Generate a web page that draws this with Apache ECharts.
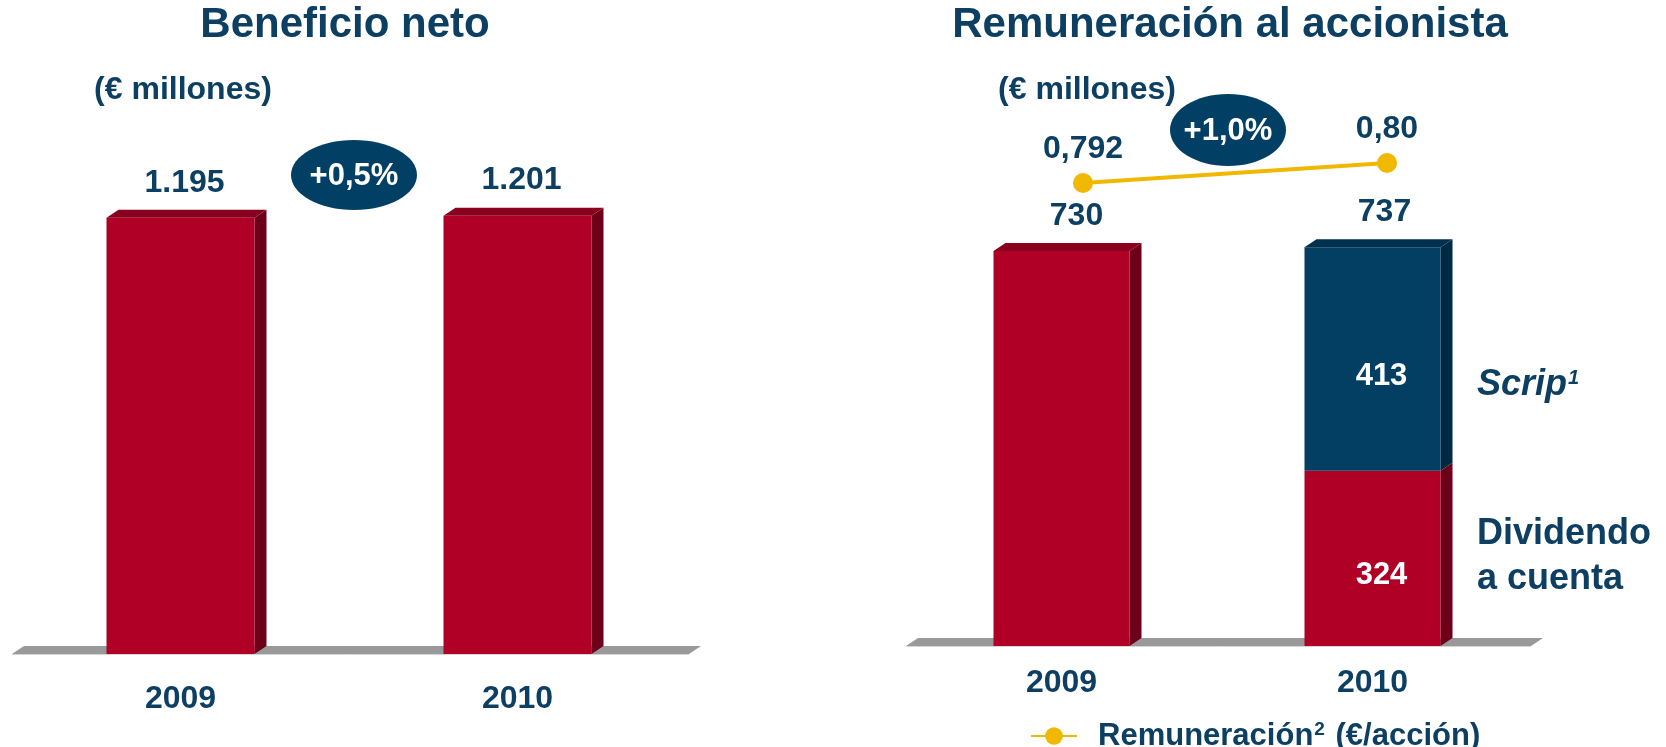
<!DOCTYPE html>
<html>
<head>
<meta charset="utf-8">
<script src="https://cdn.jsdelivr.net/npm/echarts@6/dist/echarts.min.js"></script>
<style>
html, body { margin: 0; padding: 0; background: #fff; }
#main { width: 1666px; height: 747px; }
</style>
</head>
<body>
<div id="main"></div>
<script>
// datos
var years = ['2009', '2010'];
var beneficioNeto = [1195, 1201];
var dividendoCuenta = [730, 324];
var scrip = [0, 413];
var remuneracion = [0.792, 0.80];
var remuneracionLabels = ['0,792', '0,80'];
var titulos = ['Beneficio neto', 'Remuneración al accionista'];
var unidad = '(€ millones)';
var nombreLinea = 'Remuneración² (€/acción)';
var nombresTramos = ['Dividendo\na cuenta', 'Scrip'];

var AZUL = '#0c3f62';
var ORO = '#f0b800';
var FONT = '"Liberation Sans", Arial, Helvetica, sans-serif';
var ROJO = { front: '#b00026', side: '#6d0018', top: '#89001e' };
var AZUL3D = { front: '#023f63', side: '#002a44', top: '#01304f' };
var DX = 12, DY = 8;

function miles(v) {
    return String(v).replace(/\B(?=(\d{3})+(?!\d))/g, '.');
}
function pct(a, b) {
    var p = (b / a - 1) * 100;
    return (p >= 0 ? '+' : '') + p.toFixed(1).replace('.', ',') + '%';
}

// barra 3d, items: [cat, base, tope, etiquetaArriba, etiquetaDentro]
function bar3d(width, col, lblDx, items) {
    return function (params, api) {
        var d = items[params.dataIndex];
        var p0 = api.coord([d[0], d[1]]);
        var p1 = api.coord([d[0], d[2]]);
        var x0 = p0[0] - width / 2, x1 = x0 + width;
        var yb = p0[1], yt = p1[1];
        var kids = [
            { type: 'polygon', shape: { points: [[x1, yt], [x1 + DX, yt - DY], [x1 + DX, yb - DY], [x1, yb]] }, style: { fill: col.side } },
            { type: 'rect', shape: { x: x0, y: yt, width: width, height: yb - yt }, style: { fill: col.front } }
        ];
        if (d[3]) {
            kids.push({ type: 'polygon', shape: { points: [[x0, yt], [x0 + DX, yt - DY], [x1 + DX, yt - DY], [x1, yt]] }, style: { fill: col.top } });
            kids.push({ type: 'text', x: p0[0] + lblDx, y: yt - 35, style: { text: d[3], fill: AZUL, fontSize: 32, fontWeight: 'bold', fontFamily: FONT, align: 'center', verticalAlign: 'middle' } });
        }
        if (d[4]) {
            kids.push({ type: 'text', x: p0[0] + 9, y: (yt + yb) / 2 + 17, style: { text: d[4], fill: '#fff', fontSize: 31, fontWeight: 'bold', fontFamily: FONT, align: 'center', verticalAlign: 'middle' } });
        }
        return { type: 'group', children: kids };
    };
}

function suelo(params, api) {
    var cs = params.coordSys;
    var yb = cs.y + cs.height;
    return {
        type: 'group', children: [
            { type: 'polygon', shape: { points: [[cs.x, yb], [cs.x + DX, yb - DY], [cs.x + cs.width + 15, yb - DY], [cs.x + cs.width + 3, yb]] }, style: { fill: '#999' } },
            { type: 'line', shape: { x1: cs.x, y1: yb + 0.5, x2: cs.x + cs.width + 3, y2: yb + 0.5 }, style: { stroke: '#d6d6d6', lineWidth: 1 } }
        ]
    };
}

var izq = beneficioNeto.map(function (v, i) { return [i, 0, v, miles(v), '']; });
var rojoDer = dividendoCuenta.map(function (v, i) {
    var apilado = scrip[i] > 0;
    return [i, 0, v, apilado ? '' : miles(v), apilado ? miles(v) : ''];
});
var azulDer = [];
scrip.forEach(function (v, i) {
    if (v > 0) azulDer.push([i, dividendoCuenta[i], dividendoCuenta[i] + v, miles(dividendoCuenta[i] + v), miles(v)]);
});

var catAxis = function (gi, show, margin) {
    return {
        type: 'category', gridIndex: gi, data: years, show: show,
        axisLine: { show: false }, axisTick: { show: false }, splitLine: { show: false },
        axisLabel: { show: show, margin: margin, color: AZUL, fontSize: 32, fontWeight: 'bold', fontFamily: FONT }
    };
};
var valAxis = function (gi, min, max) {
    return { type: 'value', gridIndex: gi, min: min, max: max, show: false, splitLine: { show: false } };
};

var txt = function (t, x, y, size, extra) {
    var s = { text: t, fill: AZUL, fontSize: size, fontWeight: 'bold', fontFamily: FONT, align: 'center', verticalAlign: 'middle' };
    for (var k in extra) s[k] = extra[k];
    return { type: 'text', x: x, y: y, style: s };
};

var chart = echarts.init(document.getElementById('main'));
chart.setOption({
    animation: false,
    backgroundColor: '#fff',
    grid: [
        { left: 12, top: 143, width: 674, height: 511 },
        { left: 906, top: 105, width: 622, height: 541 },
        { left: 931, top: 138, width: 608, height: 75 }
    ],
    xAxis: [catAxis(0, true, 29), catAxis(1, true, 21), catAxis(2, false, 0)],
    yAxis: [valAxis(0, 0, 1400), valAxis(1, 0, 1000), valAxis(2, 0.78, 0.81)],
    legend: {
        data: [nombreLinea],
        left: 1025, top: 715,
        itemWidth: 46, itemHeight: 22,
        lineStyle: { width: 2 },
        formatter: function (n) {
            var partes = n.split('²');
            return '{a|' + partes[0] + '}{s|2}{a|' + partes[1] + '}';
        },
        textStyle: {
            color: AZUL, fontSize: 31, fontWeight: 'bold', fontFamily: FONT, padding: [0, 0, 0, 16],
            rich: {
                a: { color: AZUL, fontSize: 31, fontWeight: 'bold', fontFamily: FONT },
                s: { color: AZUL, fontSize: 19, fontWeight: 'bold', fontFamily: FONT, padding: [0, 2, 13, 1] }
            }
        }
    },
    series: [
        { type: 'custom', xAxisIndex: 0, yAxisIndex: 0, data: [[0, 0]], renderItem: suelo, z: 1, silent: true },
        { type: 'custom', xAxisIndex: 1, yAxisIndex: 1, data: [[0, 0]], renderItem: suelo, z: 1, silent: true },
        { type: 'custom', name: titulos[0], xAxisIndex: 0, yAxisIndex: 0, data: izq.map(function (d) { return [d[0], d[2]]; }), renderItem: bar3d(148, ROJO, 4, izq), z: 2 },
        { type: 'custom', name: 'Dividendo a cuenta', xAxisIndex: 1, yAxisIndex: 1, data: rojoDer.map(function (d) { return [d[0], d[2]]; }), renderItem: bar3d(136, ROJO, 15, rojoDer), z: 2 },
        { type: 'custom', name: 'Scrip', xAxisIndex: 1, yAxisIndex: 1, data: azulDer.map(function (d) { return [d[0], d[2]]; }), renderItem: bar3d(136, AZUL3D, 12, azulDer), z: 3 },
        {
            type: 'line', name: nombreLinea, xAxisIndex: 2, yAxisIndex: 2, data: remuneracion,
            color: ORO, symbol: 'circle', symbolSize: 20, lineStyle: { width: 4, color: ORO },
            itemStyle: { color: ORO }, z: 5,
            label: {
                show: true, position: 'top', distance: 8, color: AZUL, fontSize: 32, fontWeight: 'bold', fontFamily: FONT,
                formatter: function (p) { return remuneracionLabels[p.dataIndex]; }
            }
        }
    ],
    graphic: [
        txt(titulos[0], 345, 25, 42),
        txt(titulos[1], 1230, 25, 42),
        txt(unidad, 183, 90, 32),
        txt(unidad, 1087, 90, 32),
        { type: 'ellipse', shape: { cx: 354, cy: 175, rx: 63, ry: 35 }, style: { fill: '#023f65' } },
        txt(pct(beneficioNeto[0], beneficioNeto[1]), 354, 176, 31, { fill: '#fff' }),
        { type: 'ellipse', shape: { cx: 1228, cy: 130, rx: 58, ry: 36 }, style: { fill: '#023f65' } },
        txt(pct(remuneracion[0], remuneracion[1]), 1228, 131, 31, { fill: '#fff' }),
        {
            type: 'text', x: 1477, y: 385,
            style: {
                text: '{a|' + nombresTramos[1] + '}{b|1}', align: 'left', verticalAlign: 'middle',
                rich: {
                    a: { fill: AZUL, fontSize: 36, fontWeight: 'bold', fontStyle: 'italic', fontFamily: FONT },
                    b: { fill: AZUL, fontSize: 20, fontWeight: 'bold', fontStyle: 'italic', fontFamily: FONT, padding: [0, 0, 14, 1] }
                }
            }
        },
        txt(nombresTramos[0], 1477, 557, 36, { align: 'left', lineHeight: 45 })
    ]
});
</script>
</body>
</html>
